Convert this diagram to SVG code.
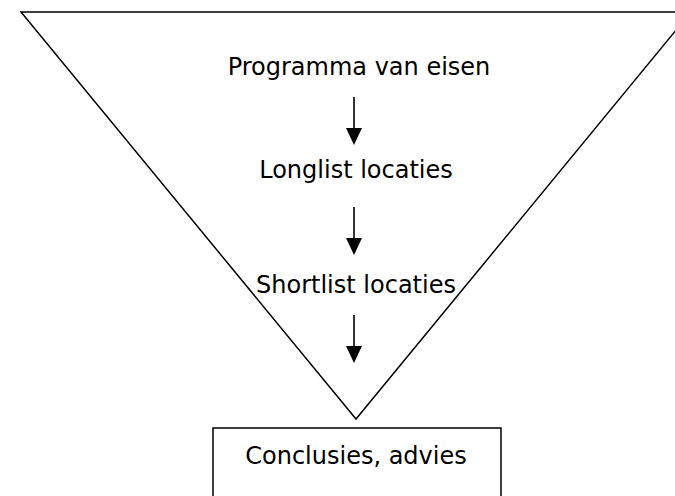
<svg xmlns="http://www.w3.org/2000/svg" width="675" height="496" viewBox="0 0 675 496">
<defs>
<style>
.t{font-family:"DejaVu Sans",Verdana,sans-serif;font-size:24px;fill:#000;text-anchor:middle}
.ln{fill:none;stroke:#000;stroke-width:1.5}
.sh{stroke:#000;stroke-width:1.6}
</style>
<marker id="ah" markerWidth="10" markerHeight="10" viewBox="0 0 16 17" refX="16" refY="8.5" orient="auto" markerUnits="userSpaceOnUse">
<path d="M0,0 L16,8.5 L0,17 Z" fill="#000"/>
</marker>
</defs>
<rect width="675" height="496" fill="#fff"/>
<g id="funnel">
<polygon class="ln" points="21,12 691,12 356,419"/>
</g>
<g id="n1"><text class="t" x="359" y="75">Programma van eisen</text></g>
<g id="n2"><text class="t" x="356" y="178">Longlist locaties</text></g>
<g id="n3"><text class="t" x="356" y="293">Shortlist locaties</text></g>
<g id="n4">
<rect class="ln" x="213" y="428" width="288" height="80" stroke-width="1.3"/>
<text class="t" x="356" y="464">Conclusies, advies</text>
</g>
<g id="connectors">
<line class="sh" x1="354" y1="97" x2="354" y2="130"/>
<polygon points="346,128 362,128 354,145"/>
<line class="sh" x1="354" y1="207" x2="354" y2="240"/>
<polygon points="346,238 362,238 354,255"/>
<line class="sh" x1="354" y1="315" x2="354" y2="348"/>
<polygon points="346,346 362,346 354,363"/>
</g>
</svg>
